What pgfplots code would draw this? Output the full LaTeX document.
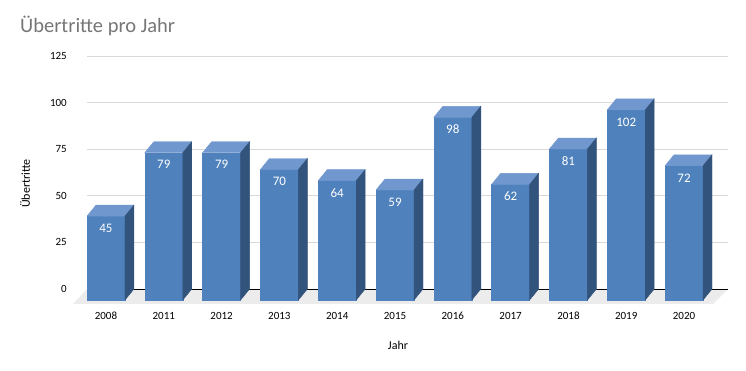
\documentclass[border=0pt]{standalone}
\usepackage{pgfplots}
\pgfplotsset{compat=1.18}
\usepackage{pgfplotstable}
\usepackage{fontspec}
\setmainfont{Carlito}
\definecolor{frontc}{RGB}{79,129,189}
\definecolor{topc}{RGB}{112,152,206}
\definecolor{sidec}{RGB}{50,83,124}
\definecolor{gridc}{RGB}{217,217,217}
\definecolor{floorc}{RGB}{236,236,236}
\definecolor{titlec}{RGB}{118,118,118}
\pgfplotstableread{
x year val
0 2008 45
1 2011 79
2 2012 79
3 2013 70
4 2014 64
5 2015 59
6 2016 98
7 2017 62
8 2018 81
9 2019 102
10 2020 72
}\datatable
\pgfdeclareplotmark{box3d}{%
  \pgfmathsetmacro\h{\yval*1.864}%
  \fill[frontc] (-28pt,-11pt) rectangle (10pt,{-\h pt-11pt});
  \fill[topc] (-28pt,-11pt) -- (10pt,-11pt) -- (19pt,0pt) -- (-19pt,0pt) -- cycle;
  \fill[sidec] (10pt,-11pt) -- (19pt,0pt) -- (19pt,{-\h pt}) -- (10pt,{-\h pt-11pt}) -- cycle;
}
\begin{document}
\begin{tikzpicture}
\path[use as bounding box] (0,0) rectangle (746pt,371pt);
\node[anchor=base west, font=\fontsize{20.5}{24}\selectfont, text=titlec, inner sep=0pt] at (20pt,338pt) {Übertritte pro Jahr};
\node[rotate=90, font=\fontsize{12}{14}\selectfont, inner sep=0pt] at (25pt,187.5pt) {Übertritte};
\node[font=\fontsize{12}{14}\selectfont, inner sep=0pt] at (398pt,26pt) {Jahr};
\begin{axis}[
  at={(87pt,82pt)}, anchor=south west,
  scale only axis, width=641pt, height=233pt,
  xmin=-0.484, xmax=10.605, ymin=0, ymax=125,
  clip=false,
  axis line style={draw=none},
  major tick length=0pt,
  ytick={25,50,75,100,125},
  extra y ticks={0},
  extra y tick style={grid=none},
  ymajorgrids, grid style={gridc, line width=0.8pt},
  xtick={0,...,10},
  xticklabels={2008,2011,2012,2013,2014,2015,2016,2017,2018,2019,2020},
  /pgf/number format/assume math mode=true,
  ticklabel style={font=\fontsize{11}{13}\selectfont},
  xticklabel style={anchor=center, inner sep=0pt, xshift=-9pt, yshift=-27pt},
  yticklabel style={anchor=east, inner sep=0pt, xshift=-20pt},
]
\fill[floorc] (rel axis cs:0,0) -- (rel axis cs:1,0) -- ([shift={(-15pt,-15pt)}]rel axis cs:1,0) -- ([shift={(-14pt,-15pt)}]rel axis cs:0,0) -- cycle;
\draw[black, line width=0.8pt] (rel axis cs:0,0) -- (rel axis cs:1,0);
\addplot[only marks, mark=box3d,
  visualization depends on={rawy \as \yval},
  nodes near coords={\pgfmathprintnumber{\yval}},
  every node near coord/.style={anchor=center, xshift=-9pt, yshift=-23pt, text=white, font=\fontsize{13}{15}\selectfont},
] table[x=x, y=val] {\datatable};
\end{axis}
\end{tikzpicture}
\end{document}
